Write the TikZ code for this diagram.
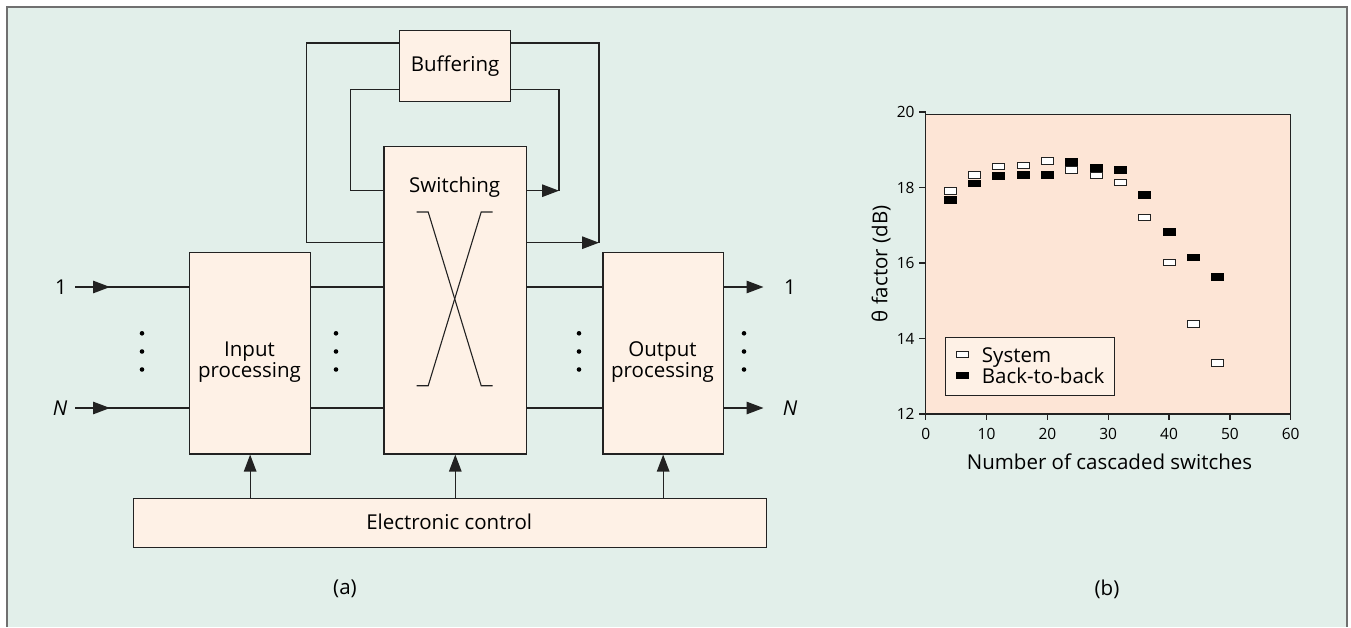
\documentclass[tikz,border=0pt]{standalone}
\usepackage{fontspec}
\setmainfont{Open Sans}
\usetikzlibrary{arrows.meta}
\definecolor{bgc}{HTML}{E2EFEA}
\definecolor{boxc}{HTML}{FEF1E6}
\definecolor{plotc}{HTML}{FDE5D6}
\definecolor{framec}{HTML}{707070}
\definecolor{linec}{HTML}{222222}
\begin{document}
\begin{tikzpicture}[x=1pt,y=-1pt,
  blk/.style={draw=linec, line width=1.3pt, fill=boxc, inner sep=0pt, anchor=north west},
  conn/.style={draw=linec, line width=1.3pt},
  arr/.style={conn, -{Triangle[length=17pt,width=12.5pt]}},
  lbl/.style={font=\fontsize{20.5}{21.5}\selectfont, inner sep=0pt, align=center},
  ticklbl/.style={font=\fontsize{15.5}{17}\selectfont, inner sep=0pt},
  dotc/.style={circle, fill=black, inner sep=0pt, minimum size=4.6pt},
  sysm/.style={draw=linec, line width=1pt, fill=white, minimum width=12pt, minimum height=6.5pt, inner sep=0pt},
  btbm/.style={fill=black, minimum width=13pt, minimum height=7.5pt, inner sep=0pt},
]
\useasboundingbox (0,0) rectangle (1351,627);
\fill[white] (0,0) rectangle (1351,627);
\fill[bgc] (7,7) rectangle (1347,627);
\draw[framec, line width=2pt] (7,627) -- (7,7) -- (1347,7) -- (1347,627);

% ---------- (a) block diagram ----------
\node[blk, minimum width=111pt, minimum height=71pt] (buf) at (399,30) {};
\node[lbl] (buft) at (buf.center) {Buffering};
\node[blk, minimum width=142.7pt, minimum height=307.3pt] (sw) at (383.3,146) {};
\node[lbl, anchor=base] (swt) at (454.7,192.7) {Switching};
\node[blk, minimum width=121pt, minimum height=201.6pt] (in) at (189,251.7) {};
\node[lbl] (int) at (249.5,362) {Input\\processing};
\node[blk, minimum width=120.4pt, minimum height=201.6pt] (out) at (602.3,251.7) {};
\node[lbl] (outt) at (662.5,362) {Output\\processing};
\node[blk, minimum width=633pt, minimum height=49pt] (ec) at (132.7,497.7) {};
\node[lbl] (ect) at (449.2,522) {Electronic control};

% switching cross
\draw[conn, line width=1.1pt] (416.7,212) -- (428.2,212) -- (481.2,385.7) -- (492.7,385.7);
\draw[conn, line width=1.1pt] (492.7,212) -- (481.2,212) -- (428.2,385.7) -- (416.7,385.7);

% buffering loops
\coordinate (oL) at (306.7,242.7);
\coordinate (oR) at (599,242.7);
\coordinate (oTL) at (306.7,43);
\coordinate (oTR) at (599,43);
\coordinate (iL) at (350.7,190.7);
\coordinate (iR) at (559,190.7);
\coordinate (iTL) at (350.7,89.3);
\coordinate (iTR) at (559,89.3);
\draw[conn] (sw.west|-oL) -- (oL) -- (oTL) -- (buf.west|-oTL);
\draw[conn] (buf.east|-oTR) -- (oTR) -- (oR);
\draw[arr] (sw.east|-oR) -- (oR);
\draw[conn] (sw.west|-iL) -- (iL) -- (iTL) -- (buf.west|-iTL);
\draw[conn] (buf.east|-iTR) -- (iTR) -- (iR);
\draw[arr] (sw.east|-iR) -- (iR);

% inputs
\node[lbl] (lin1) at (61,287) {1};
\node[lbl] (linN) at (60,408) {\textit{N}};
\coordinate (s1) at (75,287);
\coordinate (sN) at (75,408);
\draw[conn] (s1) -- (in.west|-s1);
\draw[arr] (s1) -- ++(35,0);
\draw[conn] (sN) -- (in.west|-sN);
\draw[arr] (sN) -- ++(35,0);
\draw[conn] (in.east|-s1) -- (sw.west|-s1);
\draw[conn] (in.east|-sN) -- (sw.west|-sN);
\draw[conn] (sw.east|-s1) -- (out.west|-s1);
\draw[conn] (sw.east|-sN) -- (out.west|-sN);
\coordinate (e1) at (763.5,287);
\coordinate (eN) at (763.5,408);
\draw[arr] (out.east|-e1) -- (e1);
\draw[arr] (out.east|-eN) -- (eN);
\node[lbl] (lout1) at (790,287) {1};
\node[lbl] (loutN) at (790,408) {\textit{N}};

% vertical dots
\foreach \xx/\nm in {142/a,336/b,579/c,744/d}{
  \foreach \yy/\k in {333.3/1,351.5/2,369.5/3}{
    \node[dotc] (dot\nm\k) at (\xx,\yy) {};
  }
}

% control arrows
\draw[arr] (ec.north-|in.south) -- (in.south);
\draw[arr] (ec.north-|sw.south) -- (sw.south);
\draw[arr] (ec.north-|out.south) -- (out.south);

\node[lbl] (capa) at (345,589) {(a)};

% ---------- (b) plot ----------
\fill[plotc] (925.7,114) rectangle (1290.7,414);
\draw[linec, line width=1pt] (925.7,114) rectangle (1290.7,414);
\begin{scope}[shift={(925.7,414)}, x=6.0833pt, y=37.75pt]
  \draw[linec, line width=1.3pt] (0,8) -- (0,0) -- (60,0);
  \foreach \v in {0,10,...,60}{
    \draw[linec, line width=1.3pt] (\v,0) -- ++(0pt,-6pt);
    \node[ticklbl, yshift=-20pt] (xt\v) at (\v,0) {\v};
  }
  \foreach \v in {12,14,...,20}{
    \draw[linec, line width=1.3pt] (0,\v-12) -- ++(-7pt,0pt);
    \node[ticklbl, anchor=east, xshift=-11pt] (yt\v) at (0,\v-12) {\v};
  }
  \foreach \xv/\yv [count=\i] in {4/17.91,8/18.33,12/18.56,16/18.58,20/18.70,24/18.46,28/18.32,32/18.13,36/17.21,40/16.01,44/14.38,48/13.35}{
    \node[sysm] (s\i) at (\xv,\yv-12) {};
  }
  \foreach \xv/\yv [count=\i] in {4/17.67,8/18.11,12/18.31,16/18.33,20/18.33,24/18.67,28/18.52,32/18.46,36/17.80,40/16.82,44/16.14,48/15.63}{
    \node[btbm] (b\i) at (\xv,\yv-12) {};
  }
\end{scope}

\node[lbl, rotate=90] (ylab) at (881,264) {θ factor (dB)};
\node[lbl, anchor=base] (xlab) at (1109.5,469) {Number of cascaded switches};

% legend
\node[draw=linec, line width=1pt, fill=boxc, anchor=north west, minimum width=169.6pt, minimum height=58.3pt, inner sep=0pt] (leg) at (944.7,336.7) {};
\node[sysm] (legs) at (962.7,354.3) {};
\node[btbm] (legb) at (962.7,375.7) {};
\node[lbl, anchor=base west] (legst) at (981.7,362.7) {System};
\node[lbl, anchor=base west] (legbt) at (981.7,383.3) {Back-to-back};

\node[lbl] (capb) at (1107,589) {(b)};
\end{tikzpicture}
\end{document}
